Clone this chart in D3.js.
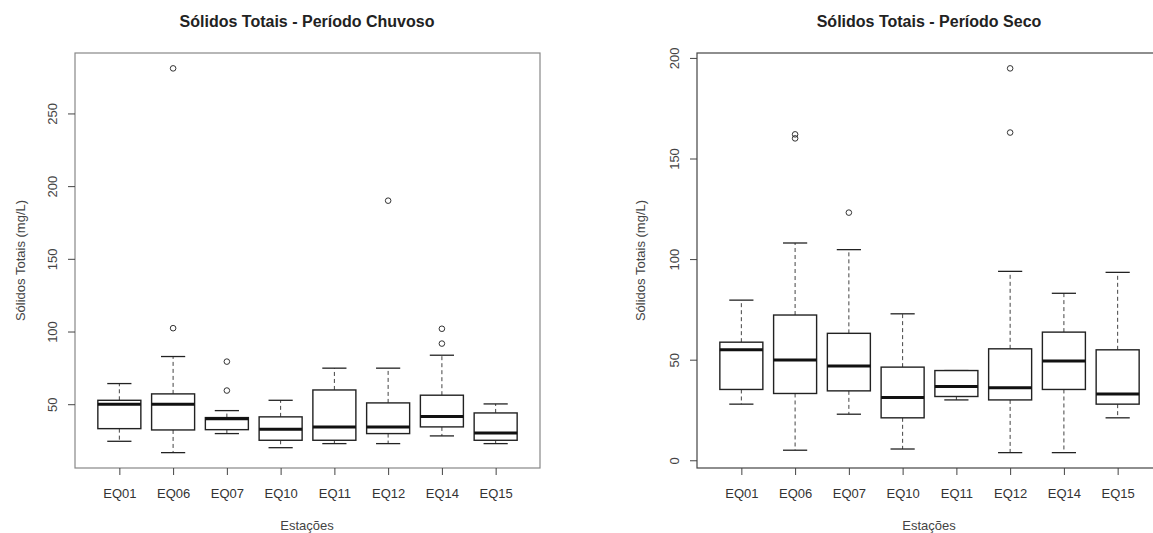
<!DOCTYPE html>
<html>
<head>
<meta charset="utf-8">
<script src="https://cdn.jsdelivr.net/npm/d3@7"></script>
<style>
	body { margin: 0; background: #fff; }
	svg { display: block; font-family: "Liberation Sans", Arial, sans-serif; }
</style>
</head>
<body>
<main></main>
<script>
// DATA
const stations = ["EQ01", "EQ06", "EQ07", "EQ10", "EQ11", "EQ12", "EQ14", "EQ15"];

// periodo chuvoso: whisker low, q1, median, q3, whisker high, outliers
const chuvLow = [24.5, 16.7, 29.8, 20.1, 22.9, 22.9, 28.2, 22.9];
const chuvQ1 = [33.2, 32.3, 32.5, 25.2, 25.2, 29.8, 34.4, 25.2];
const chuvMed = [50, 50, 40, 32.8, 34.4, 34.4, 41.5, 30.2];
const chuvQ3 = [52.7, 57.1, 40.8, 41.3, 59.8, 50.9, 56.2, 44];
const chuvHigh = [64.2, 82.8, 45.6, 52.7, 74.8, 74.8, 83.7, 50.2];
const chuvOut = [[], [102.3, 281], [59.4, 79.3], [], [], [190], [91.7, 101.9], []];
const chuvTicks = [50, 100, 150, 200, 250];

// periodo seco
const secoLow = [27.9, 5.0, 22.9, 5.6, 30.0, 3.8, 3.8, 21.1];
const secoQ1 = [35.2, 33.2, 34.5, 21.1, 31.7, 30, 35.2, 27.9];
const secoMed = [54.9, 49.8, 46.8, 31.2, 36.7, 36, 49.4, 32.9];
const secoQ3 = [58.7, 72.2, 63.1, 46.3, 44.6, 55.4, 63.7, 54.9];
const secoHigh = [79.6, 108, 104.7, 72.8, 44.6, 93.9, 83, 93.4];
const secoOut = [[], [160, 162], [123.1], [], [], [162.9, 194.8], [], []];
const secoTicks = [0, 50, 100, 150, 200];


// draw one boxplot panel
function drawPanel(svg, p) {
	const top = 53, bottom = 468;
	const stats = stations.map((s, i) => ({
		i: i + 1, low: p.low[i], q1: p.q1[i], med: p.med[i], q3: p.q3[i], high: p.high[i], out: p.out[i]
	}));
	// R style range: data range + 4%
	const all = stats.flatMap(d => [d.low, d.high].concat(d.out));
	const lo = d3.min(all), hi = d3.max(all), ext = (hi - lo) * 0.04;
	const yScale = d3.scaleLinear().domain([lo - ext, hi + ext]).range([bottom, top]);
	const xScale = d3.scaleLinear().domain([0.175, 8.825]).range([p.x0, p.x0 + 465]);
	const unit = xScale(2) - xScale(1);
	const bw = unit * 0.8, cw = unit * 0.45;

	const g = svg.append("g");

	// frame
	g.append("rect").attr("x", p.x0).attr("y", top).attr("width", 465).attr("height", bottom - top)
		.attr("fill", "none").attr("stroke", p.frame).attr("stroke-width", 1.2);

	// axes
	const yAxis = d3.axisLeft(yScale).tickValues(p.ticks).tickSize(7);
	const ya = g.append("g").attr("transform", "translate(" + p.x0 + ",0)").call(yAxis);
	ya.select(".domain").remove();
	ya.selectAll("line").attr("stroke", "#444");
	ya.selectAll("text").attr("transform", "rotate(-90)").attr("x", 0).attr("y", -23).attr("dy", "0.35em")
		.attr("text-anchor", "middle").attr("font-size", 13).attr("fill", "#444");

	const xAxis = d3.axisBottom(xScale).tickValues(d3.range(1, 9)).tickFormat(i => stations[i - 1]).tickSize(7);
	const xa = g.append("g").attr("transform", "translate(0," + bottom + ")").call(xAxis);
	xa.select(".domain").remove();
	xa.selectAll("line").attr("stroke", "#444");
	xa.selectAll("text").attr("y", 25).attr("dy", "0.35em").attr("font-size", 13).attr("fill", "#333");

	// boxes
	const box = g.selectAll(".box").data(stats).enter().append("g").attr("class", "box");
	box.append("line").attr("x1", d => xScale(d.i)).attr("x2", d => xScale(d.i))
		.attr("y1", d => yScale(d.q3)).attr("y2", d => yScale(d.high))
		.attr("stroke", "#444").attr("stroke-dasharray", "4,3");
	box.append("line").attr("x1", d => xScale(d.i)).attr("x2", d => xScale(d.i))
		.attr("y1", d => yScale(d.q1)).attr("y2", d => yScale(d.low))
		.attr("stroke", "#444").attr("stroke-dasharray", "4,3");
	box.append("line").attr("x1", d => xScale(d.i) - cw / 2).attr("x2", d => xScale(d.i) + cw / 2)
		.attr("y1", d => yScale(d.high)).attr("y2", d => yScale(d.high)).attr("stroke", "#222").attr("stroke-width", 1.3);
	box.append("line").attr("x1", d => xScale(d.i) - cw / 2).attr("x2", d => xScale(d.i) + cw / 2)
		.attr("y1", d => yScale(d.low)).attr("y2", d => yScale(d.low)).attr("stroke", "#222").attr("stroke-width", 1.3);
	box.append("rect").attr("x", d => xScale(d.i) - bw / 2).attr("width", bw)
		.attr("y", d => yScale(d.q3)).attr("height", d => yScale(d.q1) - yScale(d.q3))
		.attr("fill", "#fff").attr("stroke", "#222").attr("stroke-width", 1.4);
	box.append("line").attr("x1", d => xScale(d.i) - bw / 2).attr("x2", d => xScale(d.i) + bw / 2)
		.attr("y1", d => yScale(d.med)).attr("y2", d => yScale(d.med)).attr("stroke", "#111").attr("stroke-width", 3);
	box.selectAll("circle").data(d => d.out.map(v => ({ i: d.i, v: v }))).enter().append("circle")
		.attr("cx", d => xScale(d.i)).attr("cy", d => yScale(d.v)).attr("r", 2.8)
		.attr("fill", "none").attr("stroke", "#333").attr("stroke-width", 1);

	// titles
	const cx = p.x0 + 232;
	svg.append("text").attr("x", cx).attr("y", 27).attr("text-anchor", "middle")
		.attr("font-size", 16).attr("font-weight", "bold").attr("fill", "#222").text(p.title);
	svg.append("text").attr("x", cx).attr("y", 525).attr("dy", "0.35em").attr("text-anchor", "middle")
		.attr("font-size", 13).attr("fill", "#444").text("Estações");
	svg.append("text").attr("transform", "translate(" + p.yTitleX + "," + (top + bottom) / 2 + ") rotate(-90)")
		.attr("dy", "0.35em").attr("text-anchor", "middle")
		.attr("font-size", 13).attr("fill", "#444").text("Sólidos Totais (mg/L)");
}


// MAIN
document.addEventListener('DOMContentLoaded', () => {
	const svg = d3.select("main").append("svg").attr("width", 1153).attr("height", 533);
	drawPanel(svg, {
		title: "Sólidos Totais - Período Chuvoso", x0: 75, frame: "#888", yTitleX: 20,
		low: chuvLow, q1: chuvQ1, med: chuvMed, q3: chuvQ3, high: chuvHigh, out: chuvOut, ticks: chuvTicks
	});
	drawPanel(svg, {
		title: "Sólidos Totais - Período Seco", x0: 697, frame: "#444", yTitleX: 640,
		low: secoLow, q1: secoQ1, med: secoMed, q3: secoQ3, high: secoHigh, out: secoOut, ticks: secoTicks
	});
});
</script>
</body>
</html>
